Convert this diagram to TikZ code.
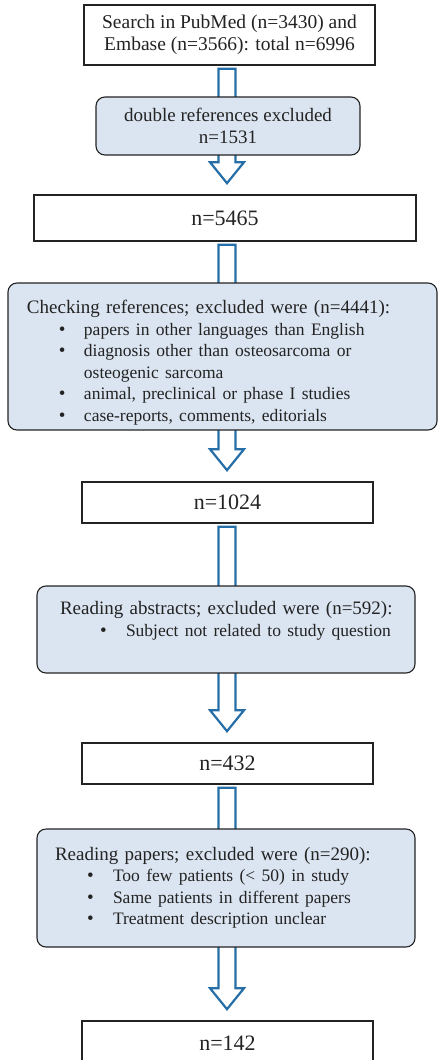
\documentclass[tikz,border=0pt]{standalone}
\usepackage{fontspec}
\setmainfont{Liberation Serif}
\usetikzlibrary{positioning,calc,backgrounds}
\definecolor{myblue}{RGB}{38,110,168}
\definecolor{mylight}{RGB}{219,229,241}
\definecolor{mygrey}{RGB}{35,35,35}

\newcommand{\itemfont}{\fontsize{17.5}{21.5}\selectfont}
% one bullet line: indent, bullet box, text
\newcommand{\bitem}[3]{\\\hspace*{#1}\makebox[#2][l]{\textbullet}\mbox{\itemfont #3}}
\newcommand{\arrx}{227pt}
% hollow block arrow from one box down to the next
\newcommand{\blockarrow}[2]{%
  \draw[arrowline] let \p1=(#1.south), \p2=(#2.north) in
    (\arrx-8.5pt,\y1-3pt) -- (\arrx-8.5pt,\y2+32pt) -- (\arrx-17pt,\y2+32pt)
    -- (\arrx,\y2+11pt) -- (\arrx+17pt,\y2+32pt) -- (\arrx+8.5pt,\y2+32pt)
    -- (\arrx+8.5pt,\y1-3pt) -- cycle;}

\begin{document}
\begin{tikzpicture}[x=1pt,y=1pt,
    every node/.style={text=mygrey,font=\fontsize{19}{21.5}\selectfont},
    countbox/.style={draw=mygrey,line width=1.6pt,fill=white,inner sep=0pt,
      minimum width=291pt,align=center,font=\fontsize{22}{24}\selectfont},
    exclbox/.style={draw=mygrey,line width=1.1pt,fill=mylight,rounded corners=9pt,
      inner sep=0pt,align=left},
    arrowline/.style={draw=myblue,line width=2.2pt,fill=white,line join=miter}
  ]
  \useasboundingbox (0,0) rectangle (438,-1060);

  % the counting boxes
  \node[countbox,minimum height=60pt,font=\fontsize{19.5}{21.5}\selectfont] (search) at (229.5,-35)
    {Search in PubMed (n=3430) and\\Embase (n=3566): total n=6996};
  \node[countbox,minimum width=382pt,minimum height=46pt] (all) at (225,-218) {n=5465};
  \node[countbox,minimum height=41pt] (checked) at (227.5,-502.5) {n=1024};
  \node[countbox,minimum height=41pt] (abstr) at (227.5,-763.5) {n=432};
  \node[countbox,minimum height=44pt] (final) at (227.5,-1043) {n=142};

  % the exclusion boxes
  \node[exclbox,align=center,minimum width=264pt,minimum height=58pt] (double) at (228,-126)
    {double references excluded\\n=1531};
  \node[exclbox,minimum width=429pt,minimum height=147pt] (refs) at (222.5,-356.5) {};
  \node[align=left,inner sep=0pt,text width=391pt] (refstext) at ([yshift=-6pt]refs.center)
    {\mbox{Checking references; excluded were (n=4441):}
     \bitem{32pt}{25pt}{papers in other languages than English}
     \bitem{32pt}{25pt}{diagnosis other than osteosarcoma or}
     \\\hspace*{57pt}\mbox{\itemfont osteogenic sarcoma}
     \bitem{32pt}{25pt}{animal, preclinical or phase I studies}
     \bitem{32pt}{25pt}{case-reports, comments, editorials}};
  \node[exclbox,minimum width=378pt,minimum height=87pt,text width=332pt] (abstracts) at (226,-629.5)
    {\mbox{Reading abstracts; excluded were (n=592):}
     \bitem{40pt}{26pt}{Subject not related to study question}
     \\\mbox{}};
  \node[exclbox,minimum width=378pt,minimum height=118pt,text width=342pt] (papers) at (226,-888)
    {\mbox{Reading papers; excluded were (n=290):}
     \bitem{32pt}{26pt}{Too few patients (< 50) in study}
     \bitem{32pt}{26pt}{Same patients in different papers}
     \bitem{32pt}{26pt}{Treatment description unclear}};

  % the arrows
  \begin{scope}[on background layer]
    \blockarrow{search}{all}
    \blockarrow{all}{checked}
    \blockarrow{checked}{abstr}
    \blockarrow{abstr}{final}
  \end{scope}
\end{tikzpicture}
\end{document}
